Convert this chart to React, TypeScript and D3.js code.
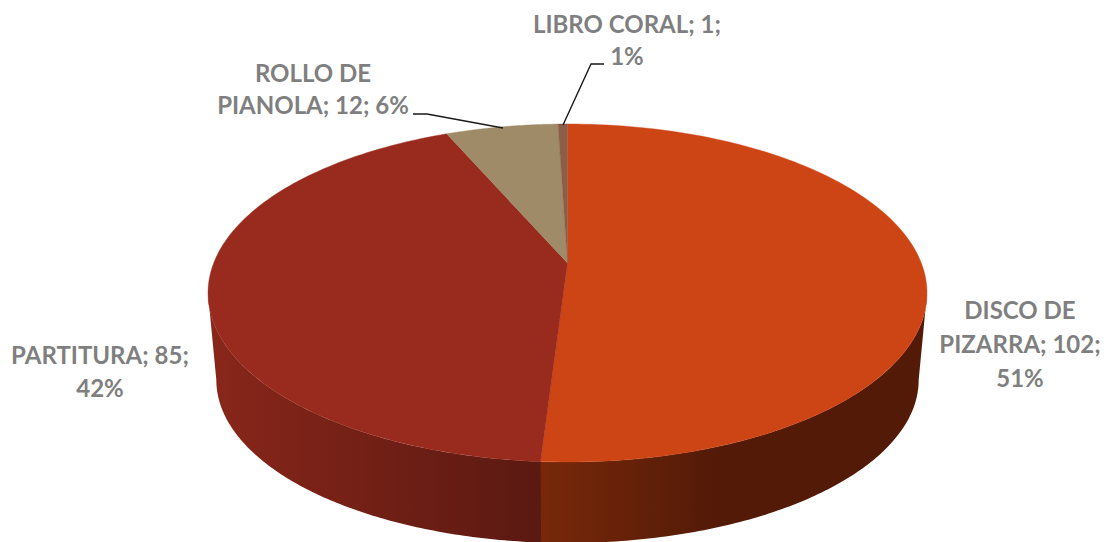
import React from "react";
import * as d3 from "d3";

const categories = ["DISCO DE PIZARRA", "PARTITURA", "ROLLO DE PIANOLA", "LIBRO CORAL"];
const values = [102, 85, 12, 1];
const topColors = ["#CE4515", "#992B1E", "#A08B68", "#8E5D48"];
const labelLines = [
  ["DISCO DE", "PIZARRA; 102;", "51%"],
  ["PARTITURA; 85;", "42%"],
  ["ROLLO DE", "PIANOLA; 12; 6%"],
  ["LIBRO CORAL; 1;", "1%"],
];
const labelAnchors = [
  { x: 1020, y: 318.5 },
  { x: 100, y: 364 },
  { x: 313, y: 82 },
  { x: 627, y: 33 },
];
const lineGap = [34, 33, 32, 32];
const leaders = [
  null,
  null,
  [[413, 114], [427, 114], [503, 128]],
  [[604, 64], [591, 64], [563, 125]],
];
const sideStops = [
  [{ x: 541, c: "#78280A" }, { x: 720, c: "#521A07" }],
  [{ x: 216, c: "#88261A" }, { x: 541, c: "#5A1911" }],
];
const sideOrder = [0, 1];

const W = 1107;
const H = 542;
const k = 0.1775;
const topFace = { cx: 567.5, cy: 263, a: 163.7, b: 353.8 };
const bottomFace = { cx: 567.5, cy: 351, a: 157.9, b: 345.6 };
// angle at which the top face reaches its widest point: the wall's silhouette starts here
const rimAngle = Math.acos(-k);

type Face = typeof topFace;
const project = (f: Face, t: number): [number, number] => {
  const x = Math.sin(t);
  const y = -Math.cos(t);
  const w = 1 - k * y;
  return [f.cx + (f.b * x) / w, f.cy + (f.a * y) / w];
};
const arcPts = (f: Face, a0: number, a1: number) =>
  d3.range(0, 121).map((i) => project(f, a0 + ((a1 - a0) * i) / 120));

const line = d3.line();

export default function App() {
  const arcs = d3.pie<number>().sort(null)(values);
  return (
    <svg
      width={W}
      height={H}
      viewBox={`0 0 ${W} ${H}`}
      style={{ position: "fixed", left: 0, top: 0, background: "#fff" }}
    >
      <defs>
        {sideStops.map((stops, i) => (
          <linearGradient
            key={i}
            id={`side${i}`}
            gradientUnits="userSpaceOnUse"
            x1={stops[0].x}
            x2={stops[1].x}
            y1={0}
            y2={0}
          >
            {stops.map((s, j) => (
              <stop key={j} offset={j} stopColor={s.c} />
            ))}
          </linearGradient>
        ))}
      </defs>
      {/* side walls, clipped to the visible front half; the first overlaps slightly under the second */}
      {sideOrder.map((i) => {
        const d = arcs[i];
        const a0 = Math.max(d.startAngle, rimAngle);
        const a1 = Math.min(d.endAngle + (i === 0 ? 0.004 : 0), 2 * Math.PI - rimAngle);
        const pts = [...arcPts(topFace, a0, a1), ...arcPts(bottomFace, a1, a0)];
        return <path key={i} d={line(pts as [number, number][])! + "Z"} fill={`url(#side${i})`} />;
      })}
      {/* top faces, with a hairline stroke so no white shows along the shared edges */}
      {arcs.map((d, i) => {
        const pts = [[topFace.cx, topFace.cy], ...arcPts(topFace, d.startAngle, d.endAngle)];
        return (
          <path
            key={i}
            d={line(pts as [number, number][])! + "Z"}
            fill={topColors[i]}
            stroke={topColors[i]}
            strokeWidth={0.4}
          />
        );
      })}
      {/* leader lines */}
      {leaders.map((l, i) =>
        l ? (
          <path
            key={i}
            d={line(l as [number, number][])!}
            fill="none"
            stroke="#1a1a1a"
            strokeWidth={1.4}
          />
        ) : null
      )}
      {/* labels */}
      {labelLines.map((lines, i) => (
        <text
          key={categories[i]}
          textAnchor="middle"
          fontFamily="Lato, 'Open Sans', sans-serif"
          fontWeight={700}
          fontSize={24}
          fill="#7F7F7F"
        >
          {lines.map((t, j) => (
            <tspan key={j} x={labelAnchors[i].x} y={labelAnchors[i].y + j * lineGap[i]}>
              {t}
            </tspan>
          ))}
        </text>
      ))}
    </svg>
  );
}
